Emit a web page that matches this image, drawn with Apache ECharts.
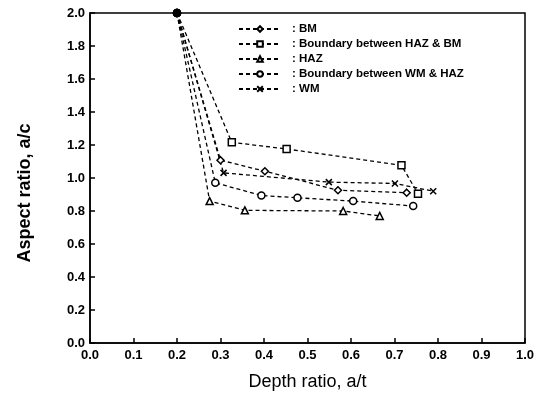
<!DOCTYPE html>
<html><head><meta charset="utf-8">
<script src="https://cdn.jsdelivr.net/npm/echarts@6/dist/echarts.min.js"></script>
<style>html,body{margin:0;padding:0;background:#fff}#c{width:542px;height:396px}</style>
</head><body><div id="c"></div>
<script>
const xTicks = [0.0,0.1,0.2,0.3,0.4,0.5,0.6,0.7,0.8,0.9,1.0];
const yTicks = [0.0,0.2,0.4,0.6,0.8,1.0,1.2,1.4,1.6,1.8,2.0];
const seriesNames = ['BM','Boundary between HAZ & BM','HAZ','Boundary between WM & HAZ','WM'];
const bmX = [0.20,0.300,0.402,0.570,0.728];
const bmY = [2.00,1.108,1.041,0.926,0.911];
const hazBmX = [0.20,0.326,0.452,0.716,0.754];
const hazBmY = [2.00,1.216,1.176,1.077,0.905];
const hazX = [0.20,0.275,0.356,0.582,0.666];
const hazY = [2.00,0.860,0.804,0.800,0.770];
const wmHazX = [0.20,0.288,0.394,0.477,0.605,0.743];
const wmHazY = [2.00,0.971,0.894,0.880,0.860,0.830];
const wmX = [0.20,0.307,0.549,0.701,0.789];
const wmY = [2.00,1.031,0.975,0.967,0.920];

const symbols = ['diamond','rect','triangle','circle','path://M0,0L10,10M0,10L10,0'];
const xs = [bmX,hazBmX,hazX,wmHazX,wmX];
const ys = [bmY,hazBmY,hazY,wmHazY,wmY];
const FONT = 'Liberation Sans, Arial, sans-serif';

const series = seriesNames.map((n,i)=>({
  name:n, type:'line',
  data: xs[i].map((x,j)=> j===0 ? {value:[x,ys[i][j]], symbol:'circle', symbolSize:7, itemStyle:{color:'#000'}} : [x,ys[i][j]]),
  symbol: symbols[i], symbolSize: i===4?6:7,
  showAllSymbol:true,
  lineStyle:{color:'#000', width:1.3, type:[4,3]},
  itemStyle:{color:'#fff', borderColor:'#000', borderWidth:1.5},
  z: 3
}));

const chart = echarts.init(document.getElementById('c'), null, {renderer:'canvas'});
chart.setOption({
  animation:false,
  backgroundColor:'#fff',
  textStyle:{fontFamily:FONT, color:'#000'},
  grid:{left:90, right:17, top:13, bottom:52, show:true, borderColor:'#000', borderWidth:1.5},
  legend:{
    data: seriesNames, orient:'vertical', left:233, top:18,
    itemWidth:42, itemHeight:7, itemGap:3,
    formatter: n => ': ' + n,
    textStyle:{fontSize:11.5, fontWeight:'bold', fontFamily:FONT, color:'#000', padding:[0,0,0,6]}
  },
  xAxis:{
    type:'value', min:0, max:1, interval:0.1,
    name:'Depth ratio, a/t', nameLocation:'middle', nameGap:30,
    nameTextStyle:{fontSize:18, color:'#000', fontFamily:FONT},
    axisLine:{lineStyle:{color:'#000', width:1.5}},
    axisTick:{inside:true, length:5, lineStyle:{color:'#000', width:1.5}},
    axisLabel:{fontSize:13, fontWeight:'bold', color:'#000', margin:6, formatter:v=>v.toFixed(1)},
    splitLine:{show:false}
  },
  yAxis:{
    type:'value', min:0, max:2, interval:0.2,
    name:'Aspect ratio, a/c', nameLocation:'middle', nameGap:56,
    nameTextStyle:{fontSize:18, fontWeight:'bold', color:'#000', fontFamily:FONT, padding:[0,30,0,0]},
    axisLine:{lineStyle:{color:'#000', width:1.5}},
    axisTick:{inside:true, length:5, lineStyle:{color:'#000', width:1.5}},
    axisLabel:{fontSize:13, fontWeight:'bold', color:'#000', margin:5, formatter:v=>v.toFixed(1)},
    splitLine:{show:false}
  },
  series: series
});
</script></body></html>
